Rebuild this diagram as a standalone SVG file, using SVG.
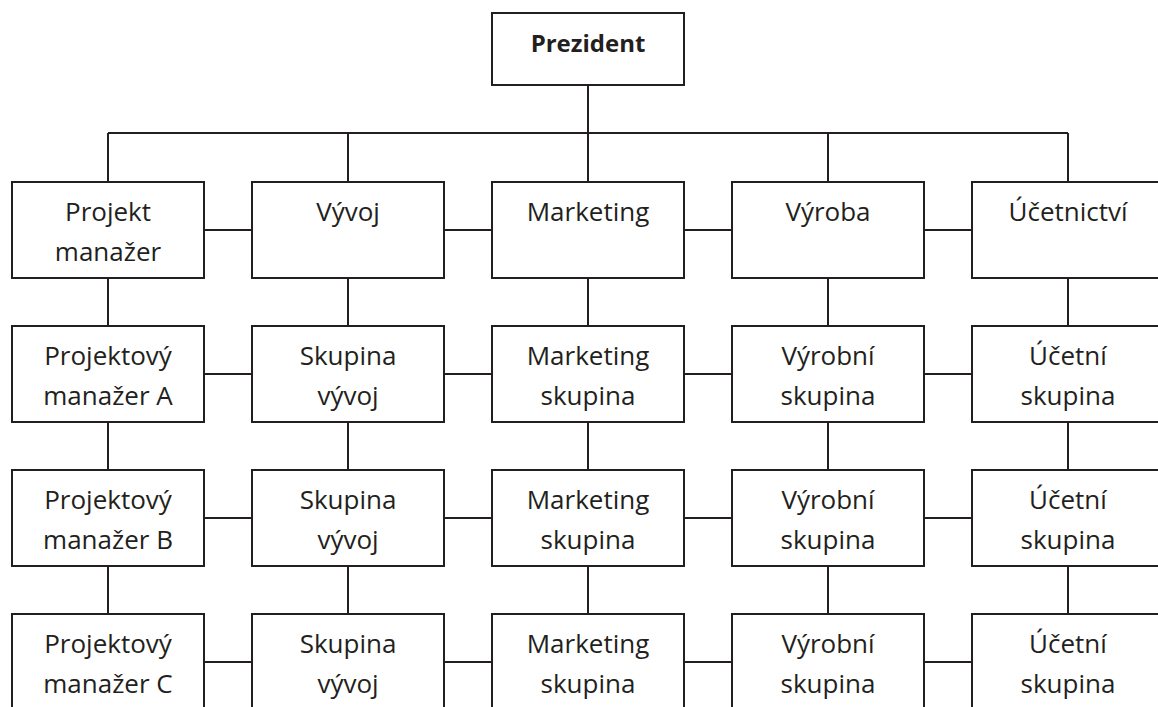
<svg xmlns="http://www.w3.org/2000/svg" width="1158" height="707" viewBox="0 0 1158 707">
<style>
.b{fill:#fff;stroke:#231f20;stroke-width:2}
.c{fill:none;stroke:#231f20;stroke-width:2}
text{font-family:"Open Sans","Liberation Sans",sans-serif;font-size:26px;fill:#231f20;text-anchor:middle}
.bold{font-weight:bold;font-size:24px}
</style>
<rect width="1158" height="707" fill="#fff"/>
<g id="connectors">
<path class="c" d="M588 85V182M108 133H1068M108 133V182M348 133V182M828 133V182M1068 133V182"/>
<path class="c" d="M108 278V326M348 278V326M588 278V326M828 278V326M1068 278V326"/>
<path class="c" d="M108 422V470M348 422V470M588 422V470M828 422V470M1068 422V470"/>
<path class="c" d="M108 566V614M348 566V614M588 566V614M828 566V614M1068 566V614"/>
<path class="c" d="M204 230H252M444 230H492M684 230H732M924 230H972"/>
<path class="c" d="M204 374H252M444 374H492M684 374H732M924 374H972"/>
<path class="c" d="M204 518H252M444 518H492M684 518H732M924 518H972"/>
<path class="c" d="M204 662H252M444 662H492M684 662H732M924 662H972"/>
</g>
<g id="prezident"><rect class="b" x="492" y="13" width="192" height="72"/><text class="bold" x="588" y="52">Prezident</text></g>
<g id="projekt-manazer"><rect class="b" x="12" y="182" width="192" height="96"/><text x="108" y="221">Projekt</text><text x="108" y="261">manažer</text></g>
<g id="vyvoj"><rect class="b" x="252" y="182" width="192" height="96"/><text x="348" y="221">Vývoj</text></g>
<g id="marketing"><rect class="b" x="492" y="182" width="192" height="96"/><text x="588" y="221">Marketing</text></g>
<g id="vyroba"><rect class="b" x="732" y="182" width="192" height="96"/><text x="828" y="221">Výroba</text></g>
<g id="ucetnictvi"><rect class="b" x="972" y="182" width="192" height="96"/><text x="1068" y="221">Účetnictví</text></g>

<g id="pm-a"><rect class="b" x="12" y="326" width="192" height="96"/><text x="108" y="365">Projektový</text><text x="108" y="405">manažer A</text></g>
<g id="sv-1"><rect class="b" x="252" y="326" width="192" height="96"/><text x="348" y="365">Skupina</text><text x="348" y="405">vývoj</text></g>
<g id="ms-1"><rect class="b" x="492" y="326" width="192" height="96"/><text x="588" y="365">Marketing</text><text x="588" y="405">skupina</text></g>
<g id="vs-1"><rect class="b" x="732" y="326" width="192" height="96"/><text x="828" y="365">Výrobní</text><text x="828" y="405">skupina</text></g>
<g id="us-1"><rect class="b" x="972" y="326" width="192" height="96"/><text x="1068" y="365">Účetní</text><text x="1068" y="405">skupina</text></g>

<g id="pm-b"><rect class="b" x="12" y="470" width="192" height="96"/><text x="108" y="509">Projektový</text><text x="108" y="549">manažer B</text></g>
<g id="sv-2"><rect class="b" x="252" y="470" width="192" height="96"/><text x="348" y="509">Skupina</text><text x="348" y="549">vývoj</text></g>
<g id="ms-2"><rect class="b" x="492" y="470" width="192" height="96"/><text x="588" y="509">Marketing</text><text x="588" y="549">skupina</text></g>
<g id="vs-2"><rect class="b" x="732" y="470" width="192" height="96"/><text x="828" y="509">Výrobní</text><text x="828" y="549">skupina</text></g>
<g id="us-2"><rect class="b" x="972" y="470" width="192" height="96"/><text x="1068" y="509">Účetní</text><text x="1068" y="549">skupina</text></g>

<g id="pm-c"><rect class="b" x="12" y="614" width="192" height="110"/><text x="108" y="653">Projektový</text><text x="108" y="693">manažer C</text></g>
<g id="sv-3"><rect class="b" x="252" y="614" width="192" height="110"/><text x="348" y="653">Skupina</text><text x="348" y="693">vývoj</text></g>
<g id="ms-3"><rect class="b" x="492" y="614" width="192" height="110"/><text x="588" y="653">Marketing</text><text x="588" y="693">skupina</text></g>
<g id="vs-3"><rect class="b" x="732" y="614" width="192" height="110"/><text x="828" y="653">Výrobní</text><text x="828" y="693">skupina</text></g>
<g id="us-3"><rect class="b" x="972" y="614" width="192" height="110"/><text x="1068" y="653">Účetní</text><text x="1068" y="693">skupina</text></g>
</svg>
